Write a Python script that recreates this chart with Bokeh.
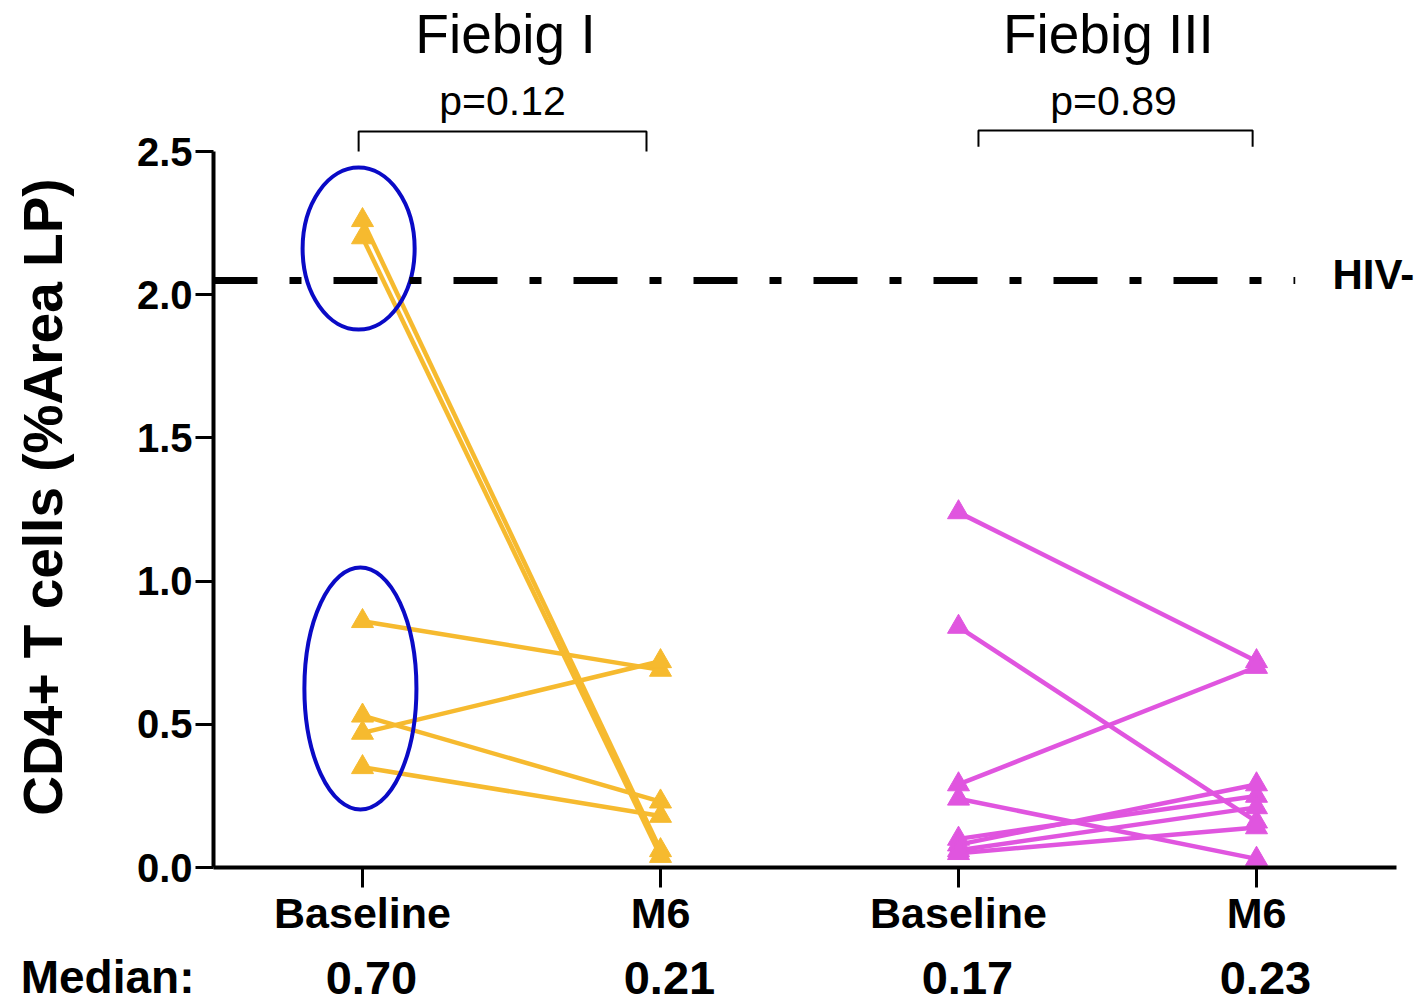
from bokeh.plotting import figure
from bokeh.layouts import column
from bokeh.models import Range1d, FixedTicker, NumeralTickFormatter
from bokeh.embed import file_html
from bokeh.resources import INLINE
from bokeh.core.properties import value

# ---------------- data ----------------
categories = ["Baseline", "M6", "Baseline", "M6"]
cat_pos = [1, 2, 3, 4]
groups = ["Fiebig I", "Fiebig III"]
p_values = ["p=0.12", "p=0.89"]
median_label = "Median:"
medians = ["0.70", "0.21", "0.17", "0.23"]
fiebig1_baseline = [2.26, 2.20, 0.86, 0.53, 0.47, 0.35]
fiebig1_m6 = [0.06, 0.04, 0.69, 0.23, 0.72, 0.18]
fiebig3_baseline = [1.24, 0.84, 0.29, 0.24, 0.10, 0.08, 0.06, 0.05]
fiebig3_m6 = [0.72, 0.16, 0.70, 0.03, 0.25, 0.29, 0.21, 0.14]
hiv_neg_level = 2.05
hiv_label = "HIV-"
y_ticks = [0.0, 0.5, 1.0, 1.5, 2.0, 2.5]
y_label = "CD4+ T cells (%Area LP)"

# ---------------- styling / layout ----------------
YELLOW = "#F6BA2F"
MAGENTA = "#E055DF"
BLUE = "#0A0AC6"
FONT = "Liberation Sans"
W = 1428
LEFT = 213
PX_PER_X = 298.0
X_END = 0.5 + (W - LEFT) / PX_PER_X
PX_PER_Y = 286.4
TOP_H = 126
Y_TOP = 2.5 + (151 - TOP_H) / PX_PER_Y
MAIN_BOTTOM = 80
MAIN_H = round(Y_TOP * PX_PER_Y) + MAIN_BOTTOM
MED_H = 1003 - TOP_H - MAIN_H

x_range = Range1d(0.5, X_END)

# bracket geometry (annotation), drawn in both panels so it spans the seam
br_xs = [[0.987, 0.987, 1.953, 1.953], [3.067, 3.067, 3.987, 3.987]]
br_ys = [[2.5, 2.57, 2.57, 2.5], [2.517, 2.573, 2.573, 2.517]]


def bare(fig):
    fig.outline_line_color = None
    fig.xgrid.visible = False
    fig.ygrid.visible = False
    fig.background_fill_color = "white"
    fig.border_fill_color = "white"
    return fig


# ---- top panel: titles, p-values (continues the y scale above the main panel)
top = bare(figure(width=W, height=TOP_H, x_range=x_range,
                  y_range=Range1d(Y_TOP, Y_TOP + TOP_H / PX_PER_Y),
                  output_backend="svg", toolbar_location=None,
                  x_axis_location=None, y_axis_location=None,
                  min_border_left=LEFT, min_border_right=0,
                  min_border_top=0, min_border_bottom=0))
top.text(x=[1.48, 3.503], y=[2.91, 2.91], text=groups,
         text_font=value(FONT), text_font_size="55px",
         text_align="center", text_baseline="alphabetic", text_color="black")
top.text(x=[1.47, 3.52], y=[2.675, 2.675], text=p_values,
         text_font=value(FONT), text_font_size="41px",
         text_align="center", text_baseline="alphabetic", text_color="black")
top.multi_line(xs=br_xs, ys=br_ys, line_color="black", line_width=2)

# ---- main panel
p = bare(figure(width=W, height=MAIN_H, x_range=x_range, y_range=Range1d(0, Y_TOP),
                output_backend="svg", toolbar_location=None,
                min_border_left=LEFT, min_border_bottom=MAIN_BOTTOM,
                min_border_top=0, min_border_right=0))
p.multi_line(xs=br_xs, ys=br_ys, line_color="black", line_width=2)

ya = p.yaxis[0]
ya.ticker = FixedTicker(ticks=y_ticks)
ya.formatter = NumeralTickFormatter(format="0.0")
ya.bounds = (0, 2.5)
ya.axis_line_width = 4
ya.major_tick_line_width = 3
ya.major_tick_out = 18
ya.major_tick_in = 0
ya.minor_tick_line_color = None
ya.major_label_standoff = 3
ya.major_label_text_font = FONT
ya.major_label_text_font_style = "bold"
ya.major_label_text_font_size = "40px"
ya.major_label_text_color = "black"
ya.axis_label = y_label
ya.axis_label_text_font = FONT
ya.axis_label_text_font_style = "bold"
ya.axis_label_text_font_size = "55px"
ya.axis_label_text_color = "black"
ya.axis_label_standoff = 60

xa = p.xaxis[0]
xa.ticker = FixedTicker(ticks=cat_pos)
xa.major_label_overrides = {c: lab for c, lab in zip(cat_pos, categories)}
xa.bounds = (0.5, 4.47)
xa.axis_line_width = 4
xa.major_tick_line_width = 3
xa.major_tick_out = 20
xa.major_tick_in = 0
xa.minor_tick_line_color = None
xa.major_label_standoff = 1
xa.major_label_text_font = FONT
xa.major_label_text_font_style = "bold"
xa.major_label_text_font_size = "43px"
xa.major_label_text_color = "black"

# paired lines + markers
p.segment(x0=[cat_pos[0]] * len(fiebig1_baseline), y0=fiebig1_baseline,
          x1=[cat_pos[1]] * len(fiebig1_m6), y1=fiebig1_m6,
          line_color=YELLOW, line_width=4.5)
p.segment(x0=[cat_pos[2]] * len(fiebig3_baseline), y0=fiebig3_baseline,
          x1=[cat_pos[3]] * len(fiebig3_m6), y1=fiebig3_m6,
          line_color=MAGENTA, line_width=4.5)
p.scatter(x=[cat_pos[0]] * len(fiebig1_baseline) + [cat_pos[1]] * len(fiebig1_m6),
          y=fiebig1_baseline + fiebig1_m6, marker="triangle", size=22,
          fill_color=YELLOW, line_color=YELLOW)
p.scatter(x=[cat_pos[2]] * len(fiebig3_baseline) + [cat_pos[3]] * len(fiebig3_m6),
          y=fiebig3_baseline + fiebig3_m6, marker="triangle", size=22,
          fill_color=MAGENTA, line_color=MAGENTA)

# highlight ellipses (annotation)
ell_x = [0.987, 0.993]
ell_y = [2.161, 0.625]
ell_w = [0.376, 0.376]
ell_h = [0.566, 0.845]
p.ellipse(x=ell_x, y=ell_y, width=ell_w, height=ell_h,
          fill_color=None, line_color=BLUE, line_width=4)

# HIV- reference line
p.line(x=[0.5, 4.13], y=[hiv_neg_level, hiv_neg_level], line_color="black",
       line_width=7, line_dash="44 32 12 32")
p.text(x=[4.255], y=[hiv_neg_level + 0.02], text=[hiv_label],
       text_font=value(FONT), text_font_style="bold", text_font_size="42px",
       text_baseline="middle", text_align="left", text_color="black")

# ---- medians panel ("Median:" is the row's axis label on the left)
med = bare(figure(width=W, height=MED_H, x_range=x_range,
                  y_range=Range1d(-0.45, 0.55),
                  output_backend="svg", toolbar_location=None,
                  x_axis_location=None,
                  min_border_left=LEFT, min_border_right=0,
                  min_border_top=0, min_border_bottom=0))
my = med.yaxis[0]
my.ticker = FixedTicker(ticks=[0])
my.major_label_overrides = {0: median_label}
my.axis_line_color = None
my.major_tick_line_color = None
my.minor_tick_line_color = None
my.major_label_standoff = 13
my.major_label_text_font = FONT
my.major_label_text_font_style = "bold"
my.major_label_text_font_size = "46px"
my.major_label_text_color = "black"
med.text(x=[c + 0.03 for c in cat_pos], y=[0] * len(cat_pos), text=medians,
         text_font=value(FONT), text_font_style="bold", text_font_size="47px",
         text_baseline="middle", text_align="center", text_color="black")

layout = column(top, p, med, spacing=0)
open("out.html", "w").write(file_html(layout, INLINE))
